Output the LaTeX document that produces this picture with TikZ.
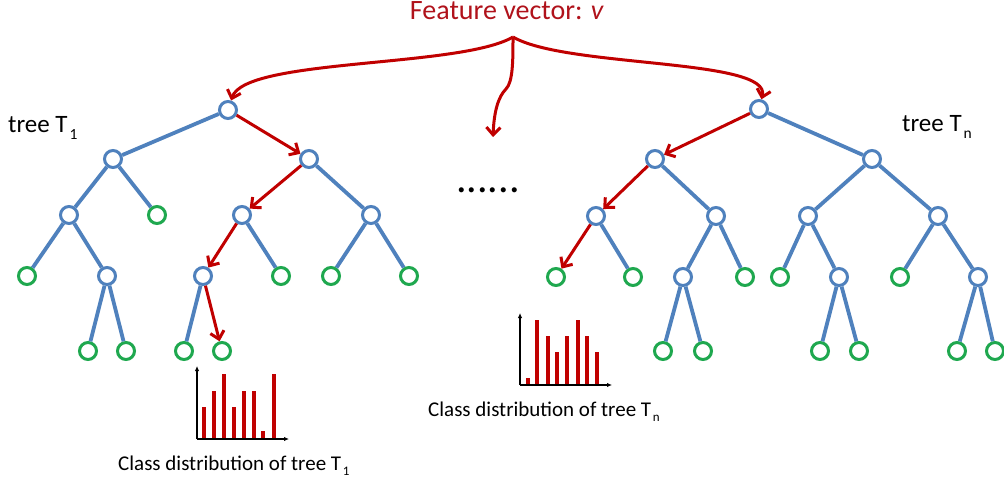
\documentclass[tikz,border=0pt]{standalone}
\usepackage{fontspec}
\setmainfont{Carlito}
\usetikzlibrary{arrows.meta}
\definecolor{treeblue}{HTML}{4F81BD}
\definecolor{leafgreen}{HTML}{1FA84F}
\definecolor{pathred}{HTML}{C00000}
\definecolor{titlered}{HTML}{B0121B}
% index set low and small, as after a tree name
\newcommand{\treeidx}[1]{\kern0.08em\raisebox{-0.28em}{\fontsize{0.62em}{0.62em}\selectfont #1}}

\begin{document}
\begin{tikzpicture}[x=1pt,y=-1pt,
  split/.style={circle,draw=treeblue,fill=white,line width=3pt,minimum size=17pt,inner sep=0pt},
  leaf/.style={circle,draw=leafgreen,fill=white,line width=3pt,minimum size=17pt,inner sep=0pt},
  branch/.style={draw=treeblue,line width=3.8pt},
  walk/.style={draw=pathred,line width=3pt,-{Straight Barb[length=7.5pt,width=14pt]}},
  axis/.style={draw=black,line width=1.4pt,-{Latex[length=5pt,width=4.5pt]}},
  bar/.style={draw=pathred,line width=4pt},
  label/.style={inner sep=0pt,anchor=base west,font=\fontsize{25}{25}\selectfont},
  caption/.style={inner sep=0pt,anchor=base west,font=\fontsize{21}{21}\selectfont},
]
\useasboundingbox (0,0) rectangle (1004,481);

% ---- title and the three routes of the feature vector ----
\node[inner sep=0pt,anchor=base,text=titlered,font=\fontsize{28}{28}\selectfont] (title) at (507,20) {Feature vector: \textit{v}};
\coordinate (apex) at (513,37);
\coordinate (drop) at (493,137);

% ---- tree T1 ----
\node[split] (a) at (228,110) {};
\node[split] (b) at (113,159) {};
\node[split] (c) at (309,159) {};
\node[split] (d) at (69,215) {};
\node[leaf]  (e) at (157,215) {};
\node[split] (h) at (242,215) {};
\node[split] (i) at (371,215) {};
\node[leaf]  (f) at (27,276) {};
\node[split] (g) at (107,276) {};
\node[split] (j) at (203,276) {};
\node[leaf]  (k) at (281,276) {};
\node[leaf]  (l) at (331,276) {};
\node[leaf]  (m) at (409,276) {};
\node[leaf]  (g1) at (88,351) {};
\node[leaf]  (g2) at (126,351) {};
\node[leaf]  (j1) at (184,351) {};
\node[leaf]  (j2) at (222,351) {};

\draw[branch] (a) -- (b);
\draw[branch] (b) -- (d);
\draw[branch] (b) -- (e);
\draw[branch] (d) -- (f);
\draw[branch] (d) -- (g);
\draw[branch] (g) -- (g1);
\draw[branch] (g) -- (g2);
\draw[branch] (c) -- (i);
\draw[branch] (h) -- (k);
\draw[branch] (j) -- (j1);
\draw[branch] (i) -- (l);
\draw[branch] (i) -- (m);
\draw[walk] (a) -- (c);
\draw[walk] (c) -- (h);
\draw[walk] (h) -- (j);
\draw[walk] (j) -- (j2);

\node[label] (t1) at (8,133) {tree T\treeidx{1}};

% ---- tree Tn ----
\node[split] (r) at (759,109) {};
\node[split] (p) at (655,159) {};
\node[split] (q) at (872,159) {};
\node[split] (s) at (596,216) {};
\node[split] (t) at (716,216) {};
\node[split] (u) at (808,216) {};
\node[split] (w) at (938,216) {};
\node[leaf]  (s1) at (556,277) {};
\node[leaf]  (s2) at (633,277) {};
\node[split] (tt) at (683,277) {};
\node[leaf]  (t2) at (745,277) {};
\node[leaf]  (u1) at (780,277) {};
\node[split] (uu) at (839,277) {};
\node[leaf]  (w1) at (900,277) {};
\node[split] (ww) at (978,277) {};
\node[leaf]  (ta) at (663,351) {};
\node[leaf]  (tb) at (703,351) {};
\node[leaf]  (ua) at (820,351) {};
\node[leaf]  (ub) at (859,351) {};
\node[leaf]  (wa) at (957,351) {};
\node[leaf]  (wb) at (995,351) {};

\draw[branch] (r) -- (q);
\draw[branch] (p) -- (t);
\draw[branch] (q) -- (u);
\draw[branch] (q) -- (w);
\draw[branch] (s) -- (s2);
\draw[branch] (t) -- (tt);
\draw[branch] (t) -- (t2);
\draw[branch] (u) -- (u1);
\draw[branch] (u) -- (uu);
\draw[branch] (w) -- (w1);
\draw[branch] (w) -- (ww);
\draw[branch] (tt) -- (ta);
\draw[branch] (tt) -- (tb);
\draw[branch] (uu) -- (ua);
\draw[branch] (uu) -- (ub);
\draw[branch] (ww) -- (wa);
\draw[branch] (ww) -- (wb);
\draw[walk] (r) -- (p);
\draw[walk] (p) -- (s);
\draw[walk] (s) -- (s1);

\node[label] (tn) at (902,132) {tree T\treeidx{n}};

% ---- routes from the feature vector ----
\draw[walk] (apex) .. controls (460,68) and (245,58) .. (a);
\draw[walk] (apex) .. controls (566,68) and (772,58) .. (r);
\draw[walk] (apex) .. controls (513,60) and (513,82) .. (506,89)
                   .. controls (498,97) and (494,112) .. (drop);

\node[inner sep=0pt,anchor=base,font=\fontsize{42}{42}\selectfont] (dots) at (488,193) {......};

% ---- class distribution of tree T1 ----
\draw[axis] (197,439) -- (197,366);
\draw[axis] (197,439) -- (289,439);
\foreach \x/\top in {204/407,214/391,224/374,234/407,244/391,254/391,263/431,274/374}
  \draw[bar] (\x,438) -- (\x,\top);
\node[caption] (c1) at (118,470) {Class distribution of tree T\treeidx{1}};

% ---- class distribution of tree Tn ----
\draw[axis] (520,385) -- (520,313);
\draw[axis] (520,385) -- (612,385);
\foreach \x/\top in {528/378,537/320,548/336,557/352,567/336,578/320,587/336,597/352}
  \draw[bar] (\x,384) -- (\x,\top);
\node[caption] (cn) at (428,416) {Class distribution of tree T\treeidx{n}};
\end{tikzpicture}
\end{document}
